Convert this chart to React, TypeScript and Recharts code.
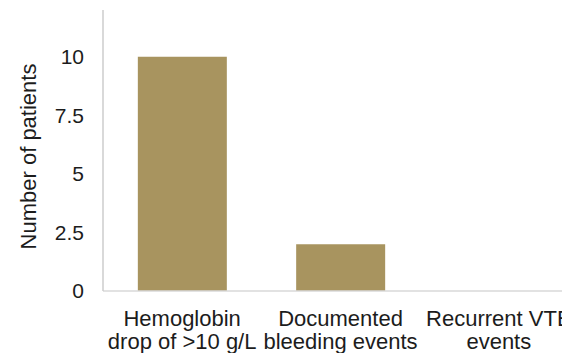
import React from "react";
import { BarChart, Bar, XAxis, YAxis } from "recharts";

const categories = [
  "Hemoglobin\ndrop of >10 g/L",
  "Documented\nbleeding events",
  "Recurrent VTE\nevents",
];
const patients = [10, 2, 0];
const yTicks = [0, 2.5, 5, 7.5, 10];
const yTitle = "Number of patients";

const data = categories.map((c, i) => ({ category: c, patients: patients[i] }));

const FONT = "'Liberation Sans', Arial, Helvetica, sans-serif";
const TEXT = "#1c1c1c";

const XTick = (props: any) => {
  const { x, y, payload } = props;
  const lines = String(payload.value).split("\n");
  return (
    <text x={x} y={y + 27} textAnchor="middle" fill={TEXT} fontSize={22} fontFamily={FONT}>
      {lines.map((l: string, i: number) => (
        <tspan key={i} x={x} dy={i === 0 ? 0 : 23}>
          {l}
        </tspan>
      ))}
    </text>
  );
};

const YTitle = (props: any) => {
  const vb = props.viewBox || {};
  const cx = vb.x + 28;
  const cy = vb.y + vb.height / 2 + 6;
  return (
    <text
      x={cx}
      y={cy}
      transform={`rotate(-90 ${cx} ${cy})`}
      textAnchor="middle"
      dominantBaseline="central"
      fill={TEXT}
      fontSize={22}
      fontFamily={FONT}
    >
      {yTitle}
    </text>
  );
};

export default function App() {
  return (
    <div
      style={{
        position: "fixed",
        left: 0,
        top: 0,
        width: 562,
        height: 353,
        overflow: "hidden",
        background: "#ffffff",
      }}
    >
      <BarChart
        width={600}
        height={353}
        data={data}
        margin={{ top: 10, right: 22, bottom: 0, left: 0 }}
        barCategoryGap="22%"
      >
        <XAxis
          xAxisId="top"
          dataKey="category"
          orientation="top"
          height={0}
          tick={false}
          tickLine={false}
          axisLine={{ stroke: "#cccccc", strokeWidth: 1.5 }}
        />
        <XAxis
          dataKey="category"
          height={62}
          tickLine={false}
          axisLine={{ stroke: "#d8d8d8", strokeWidth: 1.5 }}
          tick={<XTick />}
          interval={0}
        />
        <YAxis
          width={103}
          domain={[0, 12]}
          ticks={yTicks}
          tickLine={false}
          tickMargin={13}
          axisLine={{ stroke: "#cccccc", strokeWidth: 1.5 }}
          tick={{ fill: TEXT, fontSize: 21, fontFamily: FONT }}
          label={{ content: <YTitle /> }}
        />
        <Bar dataKey="patients" fill="#a8945f" isAnimationActive={false} />
      </BarChart>
    </div>
  );
}
